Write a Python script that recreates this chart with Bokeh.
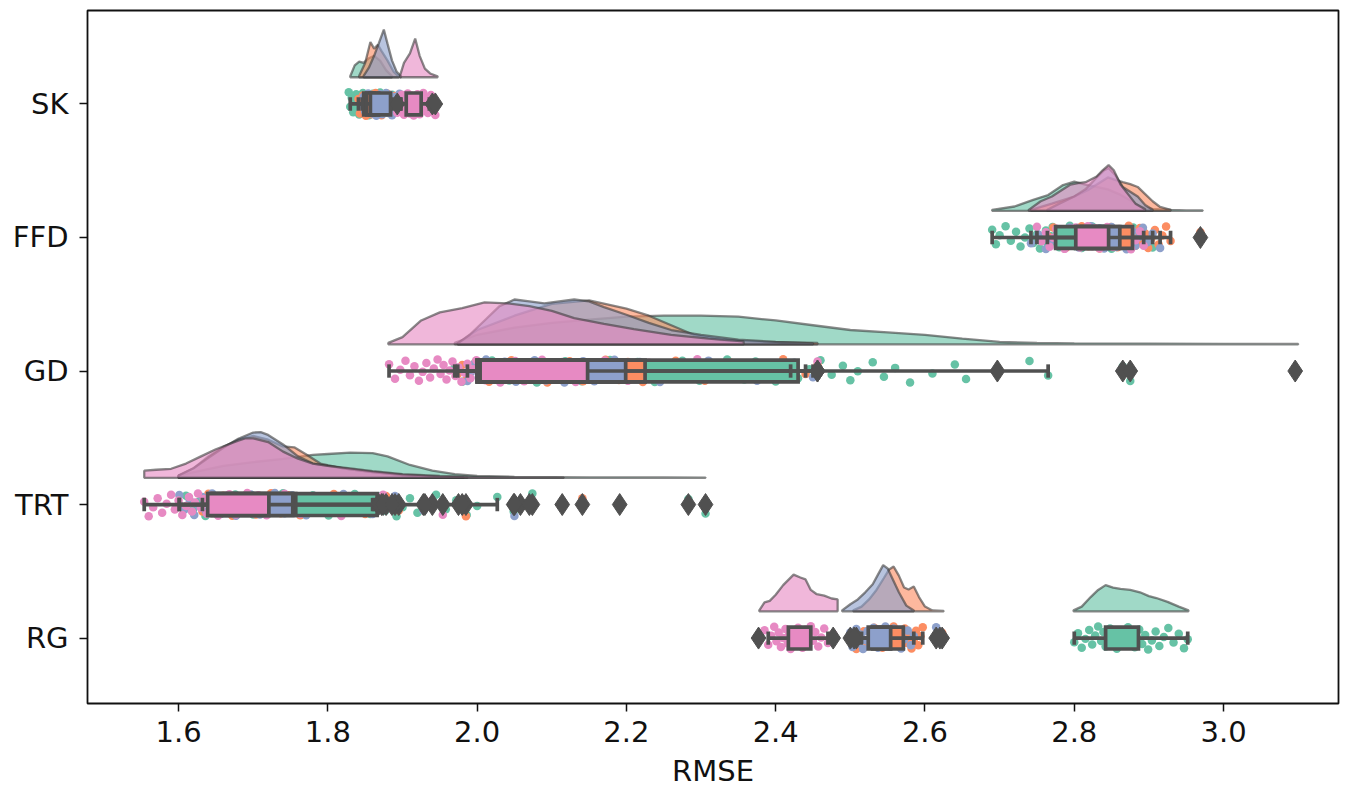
from bokeh.plotting import figure
from bokeh.models import Range1d, FixedTicker, PrintfTickFormatter
from bokeh.embed import file_html
from bokeh.resources import INLINE

CATEGORIES = ["SK", "FFD", "GD", "TRT", "RG"]
# hue groups drawn in this order: green, orange, blue, pink (Set2)
COLORS = ["#66c2a5", "#fc8d62", "#8da0cb", "#e78ac3"]
X_TICKS = [1.6, 1.8, 2.0, 2.2, 2.4, 2.6, 2.8, 3.0]
X_LABEL = "RMSE"

# ---------------- box statistics (per group) ----------------
SK_Q1 = [1.848, 1.852, 1.857, 1.905]
SK_Q3 = [1.862, 1.868, 1.884, 1.925]
SK_WLO = [1.830, 1.841, 1.846, 1.898]
SK_WHI = [1.885, 1.890, 1.897, 1.936]
SK_OUT = [[], [], [], [1.893, 1.940, 1.944]]

FFD_Q1 = [2.775, 2.805, 2.810, 2.802]
FFD_Q3 = [2.838, 2.878, 2.861, 2.846]
FFD_WLO = [2.690, 2.764, 2.742, 2.750]
FFD_WHI = [2.905, 2.929, 2.915, 2.893]
FFD_OUT = [[], [2.969], [], []]

GD_Q1 = [2.000, 2.000, 2.000, 2.004]
GD_Q3 = [2.430, 2.225, 2.199, 2.148]
GD_WLO = [1.970, 1.974, 1.987, 1.882]
GD_WHI = [2.765, 2.440, 2.450, 2.420]
GD_OUT = [[2.865, 2.875, 3.096], [2.456], [2.697], [2.456]]

TRT_Q1 = [1.640, 1.645, 1.645, 1.639]
TRT_Q3 = [1.866, 1.757, 1.753, 1.721]
TRT_WLO = [1.601, 1.632, 1.601, 1.554]
TRT_WHI = [2.027, 1.865, 1.860, 1.862]
TRT_OUT = [[2.049, 2.058, 2.074, 2.191, 2.283, 2.306],
           [1.878, 1.895, 1.940, 1.985, 2.070, 2.141],
           [1.872, 1.890, 1.928, 1.975, 2.050, 2.114],
           [1.868, 1.874, 1.886, 1.930, 1.954, 1.980]]

RG_Q1 = [2.842, 2.530, 2.524, 2.417]
RG_Q3 = [2.886, 2.571, 2.554, 2.447]
RG_WLO = [2.800, 2.515, 2.510, 2.390]
RG_WHI = [2.952, 2.597, 2.585, 2.470]
RG_OUT = [[], [2.508, 2.620, 2.623], [2.500, 2.505, 2.615], [2.377, 2.477]]

# ---------------- raw observations (rain) ----------------
SK_PTS = [
    [1.828, 1.830, 1.832, 1.834, 1.836, 1.838, 1.840, 1.841, 1.842, 1.843, 1.844, 1.845, 1.846, 1.847,
     1.848, 1.849, 1.850, 1.851, 1.852, 1.853, 1.854, 1.855, 1.856, 1.857, 1.858, 1.859, 1.860, 1.861,
     1.862, 1.863, 1.864, 1.865, 1.866, 1.868, 1.870, 1.872, 1.875, 1.878, 1.882, 1.886],
    [1.841, 1.843, 1.845, 1.847, 1.848, 1.850, 1.851, 1.852, 1.853, 1.854, 1.855, 1.856, 1.857, 1.858,
     1.859, 1.860, 1.861, 1.862, 1.863, 1.864, 1.865, 1.866, 1.867, 1.868, 1.869, 1.870, 1.871, 1.872,
     1.873, 1.874, 1.876, 1.878, 1.880, 1.882, 1.884, 1.886, 1.888, 1.890],
    [1.846, 1.848, 1.850, 1.852, 1.854, 1.856, 1.858, 1.860, 1.861, 1.862, 1.863, 1.864, 1.865, 1.866,
     1.867, 1.868, 1.869, 1.870, 1.871, 1.872, 1.873, 1.874, 1.875, 1.876, 1.877, 1.878, 1.879, 1.880,
     1.881, 1.882, 1.883, 1.884, 1.885, 1.886, 1.888, 1.890, 1.892, 1.894, 1.896, 1.897],
    [1.893, 1.897, 1.899, 1.900, 1.901, 1.902, 1.903, 1.904, 1.905, 1.906, 1.907, 1.908, 1.909, 1.910,
     1.911, 1.912, 1.913, 1.914, 1.915, 1.916, 1.917, 1.918, 1.919, 1.920, 1.921, 1.922, 1.923, 1.924,
     1.925, 1.926, 1.927, 1.928, 1.930, 1.932, 1.934, 1.936, 1.938, 1.940, 1.942, 1.944],
]
FFD_PTS = [
    [2.690, 2.695, 2.700, 2.708, 2.715, 2.722, 2.728, 2.734, 2.740, 2.745, 2.750, 2.754, 2.758, 2.762,
     2.765, 2.768, 2.771, 2.774, 2.777, 2.780, 2.783, 2.786, 2.789, 2.792, 2.794, 2.796, 2.798, 2.800,
     2.802, 2.804, 2.806, 2.808, 2.810, 2.812, 2.815, 2.818, 2.821, 2.824, 2.827, 2.830, 2.833, 2.836,
     2.839, 2.842, 2.846, 2.850, 2.855, 2.860, 2.866, 2.872, 2.879, 2.886, 2.894, 2.905],
    [2.765, 2.772, 2.778, 2.784, 2.789, 2.794, 2.798, 2.802, 2.806, 2.810, 2.813, 2.816, 2.819, 2.822,
     2.825, 2.828, 2.831, 2.834, 2.837, 2.840, 2.843, 2.846, 2.849, 2.852, 2.855, 2.858, 2.861, 2.864,
     2.867, 2.870, 2.873, 2.876, 2.879, 2.882, 2.885, 2.888, 2.891, 2.895, 2.899, 2.903, 2.908, 2.913,
     2.918, 2.923, 2.929, 2.969],
    [2.742, 2.752, 2.762, 2.770, 2.777, 2.783, 2.789, 2.794, 2.798, 2.802, 2.806, 2.810, 2.813, 2.816,
     2.819, 2.822, 2.825, 2.828, 2.830, 2.832, 2.834, 2.836, 2.838, 2.840, 2.842, 2.844, 2.846, 2.848,
     2.850, 2.852, 2.854, 2.856, 2.858, 2.861, 2.864, 2.867, 2.870, 2.874, 2.878, 2.882, 2.887, 2.892,
     2.898, 2.905, 2.915],
    [2.750, 2.756, 2.762, 2.767, 2.772, 2.776, 2.780, 2.784, 2.787, 2.790, 2.793, 2.796, 2.799, 2.802,
     2.804, 2.806, 2.808, 2.810, 2.812, 2.814, 2.816, 2.818, 2.820, 2.822, 2.824, 2.826, 2.828, 2.830,
     2.832, 2.834, 2.836, 2.838, 2.840, 2.842, 2.844, 2.846, 2.849, 2.852, 2.856, 2.860, 2.865, 2.870,
     2.876, 2.882, 2.888, 2.893],
]
GD_PTS = [
    [1.970, 1.980, 1.990, 1.998, 2.005, 2.012, 2.020, 2.028, 2.035, 2.043, 2.050, 2.058, 2.065, 2.073,
     2.080, 2.088, 2.095, 2.103, 2.110, 2.118, 2.125, 2.133, 2.140, 2.148, 2.155, 2.163, 2.170, 2.178,
     2.185, 2.193, 2.200, 2.208, 2.215, 2.223, 2.230, 2.238, 2.245, 2.253, 2.260, 2.268, 2.275, 2.283,
     2.290, 2.298, 2.305, 2.313, 2.320, 2.328, 2.335, 2.343, 2.350, 2.358, 2.365, 2.373, 2.380, 2.390,
     2.400, 2.410, 2.420, 2.430, 2.445, 2.460, 2.475, 2.490, 2.500, 2.510, 2.530, 2.545, 2.560, 2.580,
     2.610, 2.640, 2.655, 2.697, 2.740, 2.765, 2.865, 2.875, 3.096],
    [1.974, 1.980, 1.986, 1.992, 1.998, 2.004, 2.010, 2.016, 2.022, 2.028, 2.034, 2.040, 2.046, 2.052,
     2.058, 2.064, 2.070, 2.076, 2.082, 2.088, 2.094, 2.100, 2.106, 2.112, 2.118, 2.124, 2.130, 2.136,
     2.142, 2.148, 2.154, 2.160, 2.166, 2.172, 2.178, 2.184, 2.190, 2.196, 2.202, 2.208, 2.215, 2.222,
     2.230, 2.238, 2.247, 2.256, 2.266, 2.277, 2.290, 2.305, 2.320, 2.340, 2.360, 2.385, 2.410, 2.440, 2.456],
    [1.987, 1.992, 1.997, 2.002, 2.007, 2.012, 2.017, 2.022, 2.027, 2.032, 2.037, 2.042, 2.047, 2.052,
     2.057, 2.062, 2.067, 2.072, 2.077, 2.082, 2.087, 2.092, 2.097, 2.102, 2.107, 2.112, 2.117, 2.122,
     2.127, 2.132, 2.137, 2.142, 2.147, 2.152, 2.157, 2.162, 2.167, 2.172, 2.178, 2.184, 2.190, 2.196,
     2.203, 2.210, 2.218, 2.226, 2.235, 2.245, 2.256, 2.268, 2.281, 2.295, 2.310, 2.330, 2.350, 2.375,
     2.400, 2.425, 2.450, 2.697],
    [1.882, 1.890, 1.897, 1.904, 1.910, 1.916, 1.922, 1.927, 1.932, 1.937, 1.942, 1.947, 1.951, 1.955,
     1.959, 1.963, 1.967, 1.971, 1.975, 1.979, 1.983, 1.987, 1.991, 1.995, 1.999, 2.003, 2.007, 2.011,
     2.015, 2.019, 2.023, 2.027, 2.031, 2.035, 2.039, 2.043, 2.047, 2.051, 2.055, 2.059, 2.063, 2.067,
     2.072, 2.077, 2.082, 2.087, 2.092, 2.097, 2.102, 2.108, 2.114, 2.120, 2.126, 2.132, 2.139, 2.146,
     2.154, 2.162, 2.171, 2.180, 2.190, 2.202, 2.215, 2.230, 2.248, 2.270, 2.295, 2.325, 2.360, 2.400,
     2.420, 2.456],
]
TRT_PTS = [
    [1.601, 1.610, 1.619, 1.628, 1.636, 1.644, 1.652, 1.660, 1.668, 1.676, 1.684, 1.692, 1.700, 1.708,
     1.716, 1.724, 1.732, 1.740, 1.748, 1.756, 1.764, 1.772, 1.780, 1.787, 1.794, 1.801, 1.808, 1.815,
     1.822, 1.829, 1.836, 1.843, 1.850, 1.857, 1.864, 1.870, 1.877, 1.884, 1.892, 1.900, 1.910, 1.920,
     1.932, 1.945, 1.958, 1.972, 1.986, 2.000, 2.027, 2.049, 2.058, 2.074, 2.191, 2.283, 2.306],
    [1.632, 1.636, 1.640, 1.644, 1.648, 1.652, 1.656, 1.660, 1.664, 1.668, 1.672, 1.676, 1.680, 1.684,
     1.688, 1.692, 1.696, 1.700, 1.704, 1.708, 1.712, 1.716, 1.720, 1.724, 1.728, 1.732, 1.737, 1.742,
     1.747, 1.752, 1.757, 1.763, 1.770, 1.778, 1.787, 1.797, 1.808, 1.820, 1.834, 1.850, 1.865, 1.878,
     1.895, 1.940, 1.985, 2.070, 2.141],
    [1.601, 1.608, 1.615, 1.621, 1.627, 1.632, 1.637, 1.641, 1.645, 1.649, 1.653, 1.657, 1.661, 1.665,
     1.669, 1.673, 1.677, 1.681, 1.685, 1.689, 1.693, 1.697, 1.701, 1.705, 1.709, 1.713, 1.717, 1.721,
     1.725, 1.729, 1.733, 1.737, 1.742, 1.747, 1.752, 1.758, 1.764, 1.771, 1.779, 1.788, 1.798, 1.809,
     1.821, 1.834, 1.847, 1.860, 1.872, 1.890, 1.928, 1.975, 2.050, 2.114],
    [1.554, 1.560, 1.566, 1.572, 1.578, 1.584, 1.590, 1.595, 1.600, 1.605, 1.610, 1.614, 1.618, 1.622,
     1.626, 1.630, 1.634, 1.638, 1.641, 1.644, 1.647, 1.650, 1.653, 1.656, 1.659, 1.662, 1.665, 1.668,
     1.671, 1.674, 1.677, 1.680, 1.683, 1.686, 1.689, 1.692, 1.695, 1.698, 1.701, 1.704, 1.707, 1.710,
     1.714, 1.718, 1.722, 1.726, 1.731, 1.736, 1.742, 1.748, 1.755, 1.763, 1.772, 1.782, 1.793, 1.805,
     1.818, 1.832, 1.846, 1.862, 1.868, 1.874, 1.886, 1.930, 1.954, 1.980],
]
RG_PTS = [
    [2.800, 2.805, 2.810, 2.815, 2.820, 2.824, 2.828, 2.832, 2.836, 2.839, 2.842, 2.845, 2.848, 2.851,
     2.854, 2.857, 2.860, 2.863, 2.866, 2.869, 2.872, 2.875, 2.878, 2.881, 2.884, 2.887, 2.891, 2.895,
     2.899, 2.904, 2.909, 2.914, 2.920, 2.926, 2.933, 2.940, 2.947, 2.952],
    [2.508, 2.513, 2.518, 2.523, 2.528, 2.532, 2.536, 2.540, 2.543, 2.546, 2.549, 2.552, 2.555, 2.558,
     2.561, 2.564, 2.567, 2.570, 2.573, 2.576, 2.579, 2.582, 2.585, 2.588, 2.591, 2.594, 2.597, 2.620, 2.623],
    [2.500, 2.503, 2.505, 2.508, 2.511, 2.514, 2.517, 2.520, 2.523, 2.526, 2.529, 2.531, 2.533, 2.535,
     2.537, 2.539, 2.541, 2.543, 2.545, 2.547, 2.549, 2.551, 2.553, 2.555, 2.558, 2.561, 2.564, 2.568,
     2.572, 2.577, 2.581, 2.585, 2.615],
    [2.377, 2.385, 2.390, 2.394, 2.398, 2.401, 2.404, 2.407, 2.410, 2.413, 2.416, 2.418, 2.420, 2.422,
     2.424, 2.426, 2.428, 2.430, 2.432, 2.434, 2.436, 2.438, 2.440, 2.442, 2.444, 2.447, 2.450, 2.453,
     2.457, 2.461, 2.465, 2.470, 2.477],
]

# ---------------- density estimates (cloud), relative height ----------------
SK_KDE_X = [
    [1.830, 1.836, 1.842, 1.848, 1.855, 1.862, 1.870, 1.878, 1.886],
    [1.842, 1.850, 1.857, 1.862, 1.867, 1.872, 1.880, 1.888, 1.895],
    [1.848, 1.855, 1.862, 1.868, 1.875, 1.880, 1.886, 1.892, 1.898],
    [1.897, 1.902, 1.910, 1.917, 1.923, 1.930, 1.937, 1.947],
]
SK_KDE_H = [
    [0.02, 0.25, 0.33, 0.30, 0.40, 0.45, 0.35, 0.15, 0.02],
    [0.03, 0.30, 0.74, 0.60, 0.68, 0.55, 0.35, 0.12, 0.02],
    [0.03, 0.20, 0.45, 0.70, 1.00, 0.70, 0.35, 0.12, 0.02],
    [0.05, 0.30, 0.50, 0.81, 0.45, 0.18, 0.08, 0.02],
]
FFD_KDE_X = [
    [2.690, 2.720, 2.745, 2.765, 2.785, 2.800, 2.815, 2.830, 2.845, 2.860, 2.875, 2.890, 2.905, 2.930, 2.950, 2.972],
    [2.742, 2.770, 2.800, 2.820, 2.835, 2.845, 2.855, 2.865, 2.875, 2.885, 2.895, 2.905, 2.915, 2.929],
    [2.764, 2.780, 2.800, 2.815, 2.830, 2.840, 2.846, 2.855, 2.865, 2.875, 2.885, 2.895, 2.905],
    [2.739, 2.755, 2.770, 2.785, 2.795, 2.805, 2.815, 2.830, 2.838, 2.846, 2.853, 2.862, 2.872, 2.882, 2.895],
]
FFD_KDE_H = [
    [0.02, 0.09, 0.23, 0.33, 0.54, 0.61, 0.55, 0.50, 0.45, 0.35, 0.22, 0.08, 0.04, 0.02, 0.01, 0.01],
    [0.02, 0.15, 0.30, 0.45, 0.60, 0.70, 0.65, 0.60, 0.56, 0.50, 0.35, 0.20, 0.08, 0.02],
    [0.02, 0.15, 0.30, 0.45, 0.70, 0.85, 0.90, 0.75, 0.50, 0.40, 0.30, 0.12, 0.02],
    [0.02, 0.20, 0.30, 0.45, 0.55, 0.58, 0.60, 0.72, 0.85, 0.96, 0.85, 0.55, 0.35, 0.15, 0.03],
]
GD_KDE_X = [
    [1.970, 2.000, 2.050, 2.100, 2.150, 2.200, 2.250, 2.300, 2.350, 2.400, 2.450, 2.500, 2.550, 2.600,
     2.650, 2.700, 2.750, 2.800, 2.900, 3.000, 3.100],
    [1.974, 2.000, 2.050, 2.100, 2.150, 2.200, 2.230, 2.260, 2.290, 2.330, 2.380, 2.420, 2.456],
    [1.974, 1.990, 2.010, 2.030, 2.050, 2.070, 2.090, 2.110, 2.130, 2.150, 2.170, 2.200, 2.230, 2.260,
     2.300, 2.350, 2.400, 2.450],
    [1.881, 1.900, 1.925, 1.950, 1.980, 2.010, 2.040, 2.070, 2.100, 2.130, 2.170, 2.210, 2.260, 2.310, 2.357],
]
GD_KDE_H = [
    [0.03, 0.20, 0.35, 0.45, 0.52, 0.58, 0.60, 0.60, 0.58, 0.50, 0.40, 0.30, 0.25, 0.20,
     0.12, 0.05, 0.03, 0.02, 0.015, 0.01, 0.008],
    [0.02, 0.30, 0.60, 0.85, 0.92, 0.75, 0.60, 0.40, 0.20, 0.08, 0.05, 0.04, 0.03],
    [0.02, 0.20, 0.50, 0.80, 0.94, 0.90, 0.86, 0.90, 0.94, 0.90, 0.78, 0.62, 0.45, 0.30,
     0.20, 0.10, 0.05, 0.02],
    [0.03, 0.15, 0.50, 0.67, 0.76, 0.88, 0.86, 0.80, 0.70, 0.55, 0.43, 0.32, 0.20, 0.12, 0.06],
]
TRT_KDE_X = [
    [1.600, 1.630, 1.660, 1.700, 1.740, 1.780, 1.800, 1.830, 1.860, 1.880, 1.910, 1.940, 1.970, 2.000,
     2.050, 2.100, 2.150, 2.200, 2.250, 2.306],
    [1.600, 1.620, 1.640, 1.660, 1.680, 1.700, 1.720, 1.740, 1.755, 1.770, 1.790, 1.820, 1.860, 1.900,
     1.950, 1.987],
    [1.600, 1.620, 1.640, 1.660, 1.680, 1.700, 1.710, 1.720, 1.740, 1.760, 1.780, 1.800, 1.830, 1.860,
     1.900, 1.950, 1.982],
    [1.554, 1.570, 1.590, 1.610, 1.630, 1.650, 1.670, 1.680, 1.690, 1.700, 1.720, 1.740, 1.760, 1.780,
     1.800, 1.830, 1.860, 1.900, 1.950, 2.000, 2.050, 2.116],
]
TRT_KDE_H = [
    [0.05, 0.15, 0.25, 0.33, 0.40, 0.48, 0.50, 0.53, 0.52, 0.45, 0.27, 0.15, 0.08, 0.04,
     0.02, 0.015, 0.01, 0.01, 0.008, 0.005],
    [0.05, 0.20, 0.45, 0.65, 0.80, 0.88, 0.80, 0.66, 0.64, 0.50, 0.30, 0.20, 0.12, 0.06, 0.02, 0.005],
    [0.05, 0.20, 0.42, 0.63, 0.82, 0.95, 0.96, 0.90, 0.70, 0.45, 0.30, 0.25, 0.18, 0.12, 0.06, 0.02, 0.005],
    [0.15, 0.17, 0.19, 0.30, 0.45, 0.60, 0.72, 0.78, 0.83, 0.83, 0.75, 0.55, 0.40, 0.30,
     0.25, 0.20, 0.14, 0.08, 0.04, 0.02, 0.01, 0.005],
]
RG_KDE_X = [
    [2.799, 2.810, 2.822, 2.832, 2.842, 2.852, 2.862, 2.875, 2.888, 2.900, 2.910, 2.925, 2.940, 2.953],
    [2.504, 2.515, 2.525, 2.535, 2.545, 2.552, 2.558, 2.565, 2.572, 2.578, 2.585, 2.592, 2.600, 2.610, 2.625],
    [2.489, 2.500, 2.510, 2.520, 2.530, 2.537, 2.544, 2.550, 2.556, 2.565, 2.575, 2.585],
    [2.378, 2.385, 2.392, 2.400, 2.410, 2.424, 2.433, 2.440, 2.447, 2.455, 2.465, 2.475, 2.483],
]
RG_KDE_H = [
    [0.02, 0.10, 0.30, 0.45, 0.55, 0.50, 0.47, 0.45, 0.40, 0.32, 0.28, 0.20, 0.10, 0.02],
    [0.02, 0.10, 0.25, 0.45, 0.70, 0.88, 0.94, 0.75, 0.50, 0.46, 0.52, 0.30, 0.10, 0.02, 0.01],
    [0.02, 0.15, 0.25, 0.40, 0.57, 0.77, 0.97, 0.90, 0.70, 0.40, 0.12, 0.02],
    [0.02, 0.19, 0.22, 0.35, 0.55, 0.77, 0.71, 0.67, 0.45, 0.36, 0.33, 0.27, 0.25],
]

# ---------------- assemble ----------------
BOX = {
    "SK": (SK_Q1, SK_Q3, SK_WLO, SK_WHI, SK_OUT),
    "FFD": (FFD_Q1, FFD_Q3, FFD_WLO, FFD_WHI, FFD_OUT),
    "GD": (GD_Q1, GD_Q3, GD_WLO, GD_WHI, GD_OUT),
    "TRT": (TRT_Q1, TRT_Q3, TRT_WLO, TRT_WHI, TRT_OUT),
    "RG": (RG_Q1, RG_Q3, RG_WLO, RG_WHI, RG_OUT),
}
PTS = {"SK": SK_PTS, "FFD": FFD_PTS, "GD": GD_PTS, "TRT": TRT_PTS, "RG": RG_PTS}
KDE = {"SK": (SK_KDE_X, SK_KDE_H), "FFD": (FFD_KDE_X, FFD_KDE_H), "GD": (GD_KDE_X, GD_KDE_H),
       "TRT": (TRT_KDE_X, TRT_KDE_H), "RG": (RG_KDE_X, RG_KDE_H)}

FONT = "DejaVu Sans"
DARK = "#505050"
CLOUD_OFF = 0.20     # gap between category line and cloud base
CLOUD_H = 0.357      # height of relative density 1.0
BOX_HALF = 0.082
CAP_HALF = 0.05
JIT = 0.088
LW = 3.7

p = figure(width=1350, height=790,
           x_range=Range1d(1.478, 3.154), y_range=Range1d(4.49, -0.70),
           output_backend="svg", toolbar_location=None,
           min_border_left=87, min_border_right=12, min_border_top=10, min_border_bottom=83)
p.xgrid.visible = False
p.ygrid.visible = False
p.background_fill_color = "white"
p.border_fill_color = "white"
p.outline_line_color = "#111111"
p.outline_line_width = 1.8

# clouds
for ci, cat in enumerate(CATEGORIES):
    kx, kh = KDE[cat]
    base = ci - CLOUD_OFF
    for g in range(4):
        xs = list(kx[g]) + [kx[g][-1], kx[g][0]]
        ys = [base - h * CLOUD_H for h in kh[g]] + [base, base]
        p.patch(xs, ys, fill_color=COLORS[g], fill_alpha=0.62,
                line_color="#3a3a3a", line_alpha=0.6, line_width=2.3)

# rain
for ci, cat in enumerate(CATEGORIES):
    for g in range(4):
        vals = PTS[cat][g]
        offs = [(((i * 0.6180339887) + g * 0.29 + ci * 0.17) % 1.0 - 0.5) * 2 * JIT
                for i in range(len(vals))]
        p.scatter(vals, [ci + o for o in offs], size=8.5, fill_color=COLORS[g],
                  line_color=None, fill_alpha=1.0)

# boxes
for g in range(4):
    for ci, cat in enumerate(CATEGORIES):
        q1, q3, wlo, whi, out = BOX[cat]
        p.quad(left=q1[g], right=q3[g], top=ci - BOX_HALF, bottom=ci + BOX_HALF,
               fill_color=COLORS[g], line_color=DARK, line_width=LW, line_join="miter")
        p.segment(x0=[wlo[g], q3[g]], y0=[ci, ci], x1=[q1[g], whi[g]], y1=[ci, ci],
                  line_color=DARK, line_width=LW)
        p.segment(x0=[wlo[g], whi[g]], y0=[ci - CAP_HALF] * 2, x1=[wlo[g], whi[g]],
                  y1=[ci + CAP_HALF] * 2, line_color=DARK, line_width=LW)
        if out[g]:
            p.scatter(out[g], [ci] * len(out[g]), marker="diamond", size=22,
                      fill_color=DARK, line_color=DARK)

# axes
p.xaxis.ticker = FixedTicker(ticks=X_TICKS)
p.xaxis.formatter = PrintfTickFormatter(format="%.1f")
p.xaxis.axis_label = X_LABEL
p.yaxis.ticker = FixedTicker(ticks=list(range(len(CATEGORIES))))
p.yaxis.major_label_overrides = {i: c for i, c in enumerate(CATEGORIES)}
for ax in (p.xaxis, p.yaxis):
    ax.axis_line_color = None
    ax.major_tick_in = 0
    ax.major_tick_out = 8
    ax.major_tick_line_width = 1.5
    ax.major_tick_line_color = "#111111"
    ax.minor_tick_line_color = None
    ax.major_label_text_font = FONT
    ax.major_label_text_font_size = "29px"
    ax.major_label_text_color = "#111111"
    ax.axis_label_text_font = FONT
    ax.axis_label_text_font_size = "29px"
    ax.axis_label_text_font_style = "normal"
    ax.axis_label_text_color = "#111111"
p.xaxis.major_label_standoff = 9
p.xaxis.axis_label_standoff = 9
p.yaxis.major_label_standoff = 11

open("out.html", "w").write(file_html(p, INLINE))
